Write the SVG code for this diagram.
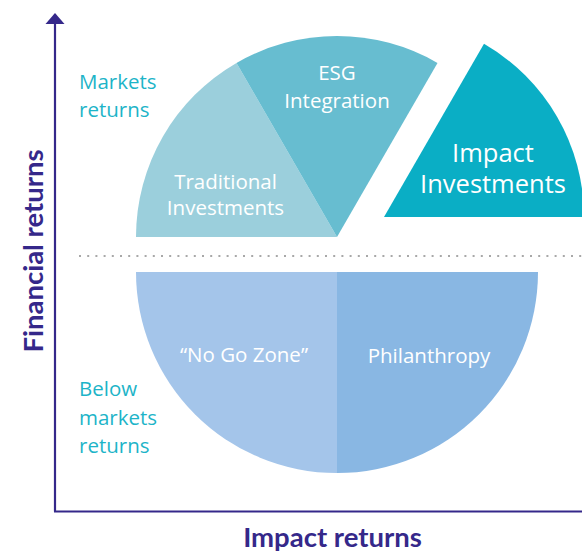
<svg xmlns="http://www.w3.org/2000/svg" width="582" height="554" viewBox="0 0 582 554">
<style>
.lbl{font-family:"Open Sans","Liberation Sans",sans-serif;font-size:20.5px;font-weight:500;fill:#ffffff;text-anchor:middle}
.big{font-size:25.5px}
.side{font-family:"Open Sans","Liberation Sans",sans-serif;font-size:20.5px;fill:#1db4c8}
.axt{font-family:Lato,"Liberation Sans",sans-serif;font-weight:bold;font-size:27.5px;fill:#35288a;text-anchor:middle}
.axis{stroke:#35288a;stroke-width:2.2;fill:none}
</style>
<rect width="582" height="554" fill="#ffffff"/>
<g id="connectors">
<line class="axis" x1="55" y1="22" x2="55" y2="511.5"/>
<line class="axis" x1="54" y1="511.5" x2="582" y2="511.5"/>
<polygon points="55,13 45.5,24 64.5,24" fill="#35288a"/>
<line x1="79" y1="256" x2="582" y2="256" stroke="#a8a8a8" stroke-width="2" stroke-dasharray="2 6.2"/>
</g>
<g id="traditional">
<path d="M337,237 L136,237 A201,201 0 0 1 236.5,62.9 Z" fill="#9bcfdc"/>
<text class="lbl" x="225.5" y="189">Traditional</text>
<text class="lbl" x="225.5" y="215">Investments</text>
</g>
<g id="esg">
<path d="M337,237 L236.5,62.9 A201,201 0 0 1 437.5,62.9 Z" fill="#67bdd0"/>
<text class="lbl" x="337" y="80">ESG</text>
<text class="lbl" x="337" y="108">Integration</text>
</g>
<g id="impact">
<path d="M384,217 L484,43.8 A200,200 0 0 1 584,217 Z" fill="#0aaec5"/>
<text class="lbl big" x="493" y="161.5">Impact</text>
<text class="lbl big" x="493" y="193">Investments</text>
</g>
<g id="nogo">
<path d="M337,272 L136,272 A201,201 0 0 0 337,473 Z" fill="#a4c5ea"/>
<text class="lbl" x="244" y="361.5">“No Go Zone”</text>
</g>
<g id="philanthropy">
<path d="M337,272 L337,473 A201,201 0 0 0 538,272 Z" fill="#89b7e3"/>
<text class="lbl" x="429" y="362.5">Philanthropy</text>
</g>
<g id="markets-label">
<text class="side" x="79" y="88.5">Markets</text>
<text class="side" x="79" y="117">returns</text>
</g>
<g id="below-label">
<text class="side" x="79" y="396">Below</text>
<text class="side" x="79" y="424.5">markets</text>
<text class="side" x="79" y="453">returns</text>
</g>
<g id="axis-titles">
<text class="axt" transform="translate(43,251) rotate(-90)">Financial returns</text>
<text class="axt" x="332.5" y="547">Impact returns</text>
</g>
</svg>
